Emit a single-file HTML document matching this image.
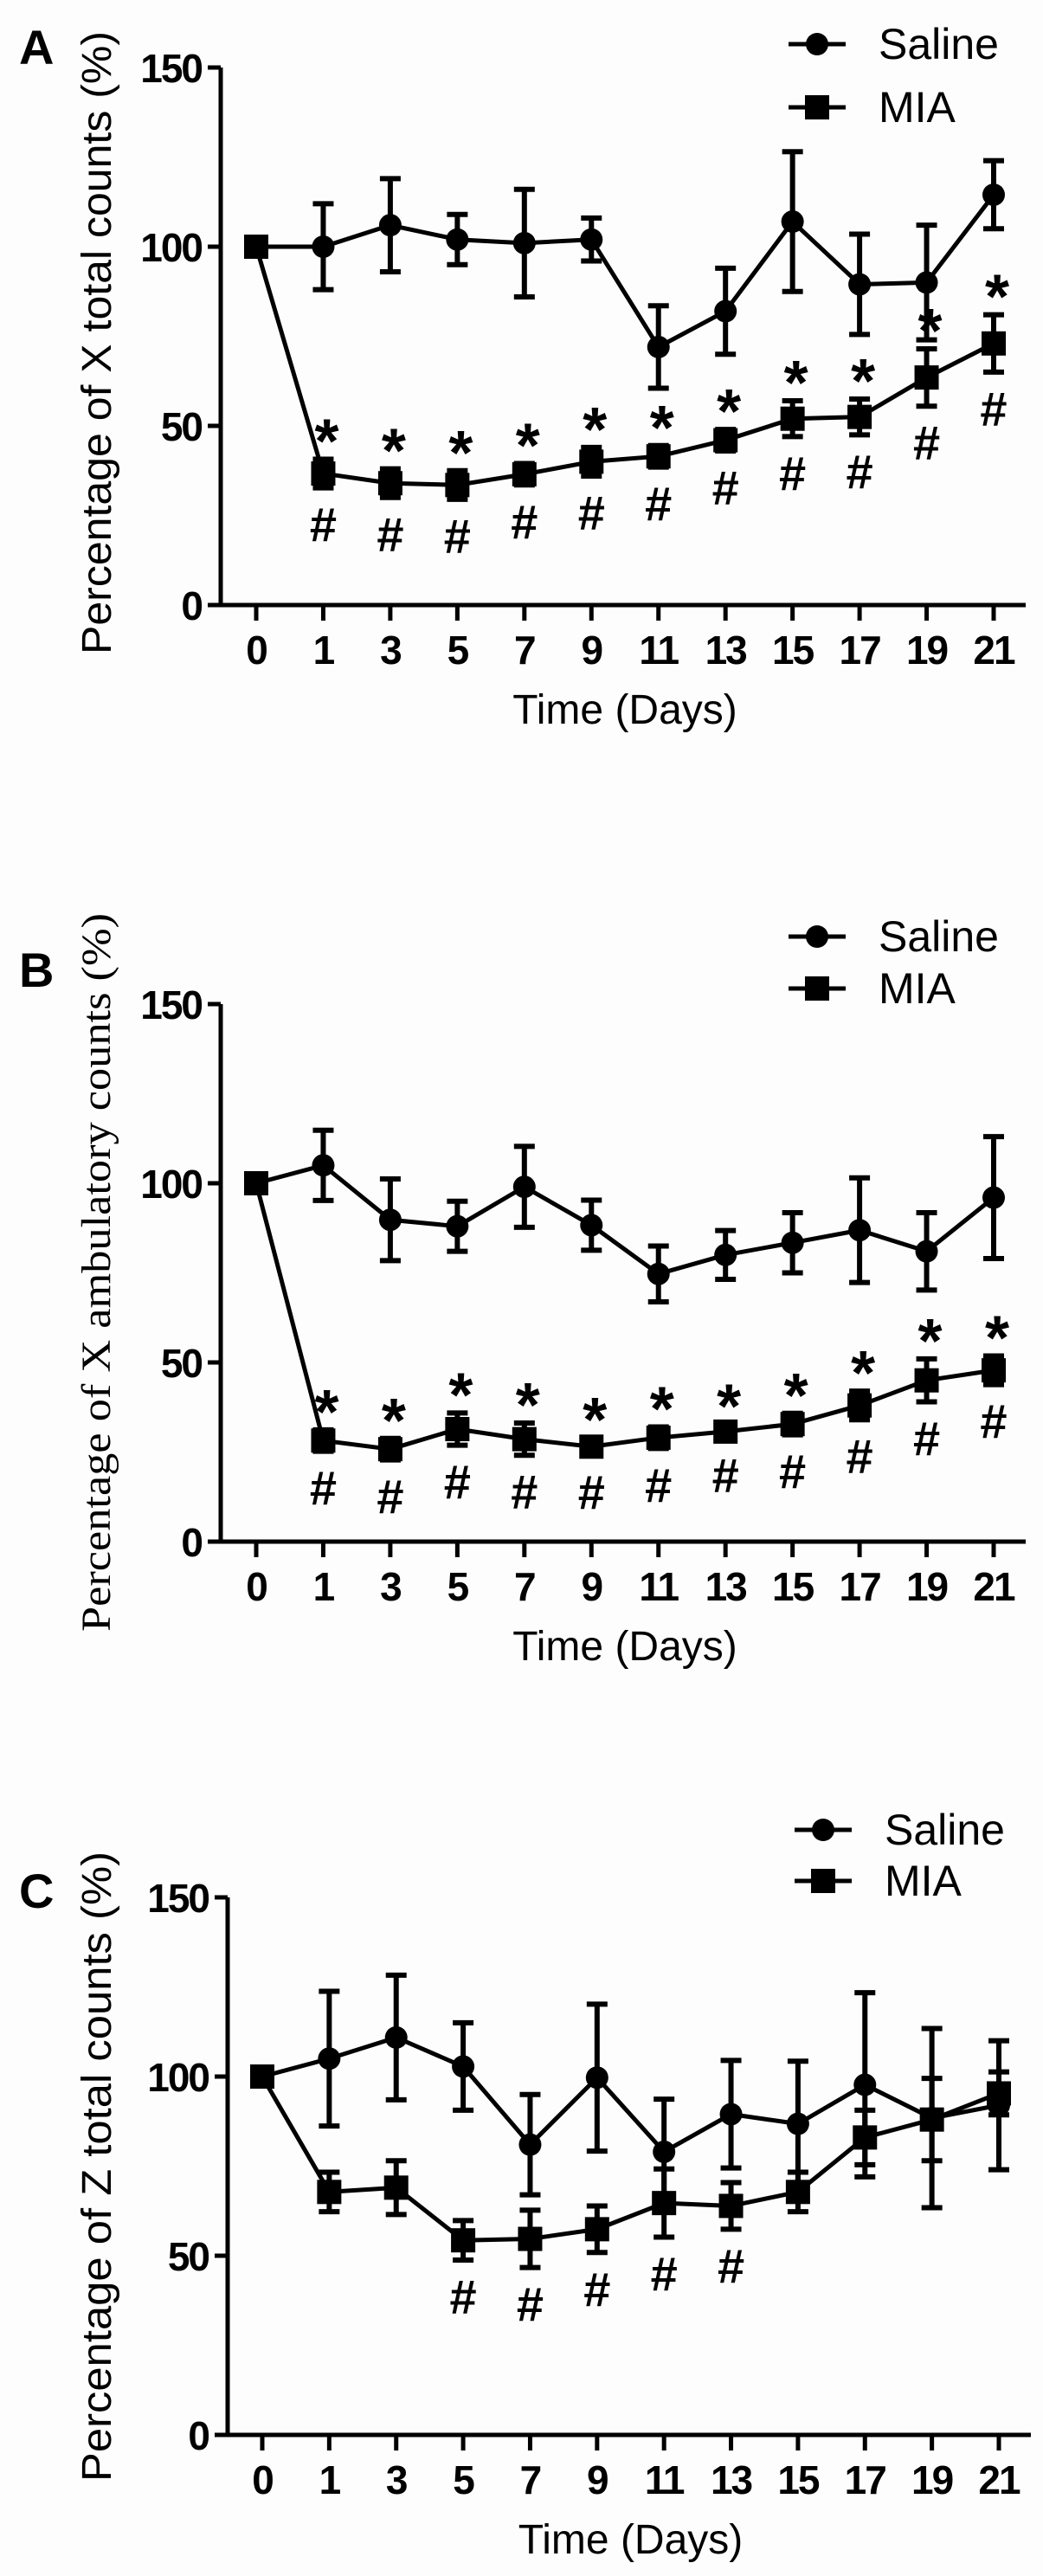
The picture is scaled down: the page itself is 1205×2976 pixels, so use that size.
<!DOCTYPE html>
<html><head><meta charset="utf-8"><style>
html,body{margin:0;padding:0;background:#fdfdfd;}
svg{display:block;}
text{font-family:"Liberation Sans",Arial,sans-serif;fill:#000;}
</style></head>
<body>
<svg id="fig" width="1205" height="2976" viewBox="0 0 1205 2976"></svg>
<script>
const categories = ["0","1","3","5","7","9","11","13","15","17","19","21"];
const yTicks = [0,50,100,150];

const aSalineMean = [100,100,106,102,101,102,72,82,107,89.5,90,114.5];
const aSalineErr  = [0,12,13,7,15,6,11.5,12,19.5,14,16,9.5];
const aMiaMean    = [100,36.7,34,33.5,36.5,40,41.5,46,52,52.5,63.5,73];
const aMiaErr     = [0,4,4,4,3,4,3,3,5,5,8,8];
const aStars      = [0,1,1,1,1,1,1,1,1,1,1,1];
const aHashes     = [0,1,1,1,1,1,1,1,1,1,1,1];

const bSalineMean = [100,105,89.8,88,99,88.3,74.7,80,83.4,86.9,81,96];
const bSalineErr  = [0,9.8,11.4,7,11.3,7,7.8,6.8,8.4,14.6,10.8,17];
const bMiaMean    = [100,28.2,25.8,31.4,28.6,26.5,29,30.7,32.8,38,45,47.8];
const bMiaErr     = [0,3,3,4.5,4.5,2.5,3,2,3,4,6,4];
const bStars      = [0,1,1,1,1,1,1,1,1,1,1,1];
const bHashes     = [0,1,1,1,1,1,1,1,1,1,1,1];

const cSalineMean = [100,105,110.9,102.8,81,99.7,79,89.5,86.8,97.7,88.4,92];
const cSalineErr  = [0,18.8,17.4,12.2,14,20.5,14.7,15,17.5,25.7,25,18];
const cMiaMean    = [100,67.8,69,54.3,54.7,57.4,64.7,63.9,67.8,83,88,95.3];
const cMiaErr     = [0,5.5,7.5,5.5,8,6.5,9.5,6.5,5.5,7.6,11.5,6];
const cStars      = [0,0,0,0,0,0,0,0,0,0,0,0];
const cHashes     = [0,0,0,1,1,1,1,1,0,0,0,0];

const NS = "http://www.w3.org/2000/svg";
const svg = document.getElementById("fig");
function mk(tag, attrs, parent){
  const e = document.createElementNS(NS, tag);
  for (const k in attrs) e.setAttribute(k, attrs[k]);
  (parent||svg).appendChild(e);
  return e;
}

function drawPanel(cfg){
  const g = mk("g", {});
  
  
  const x0 = cfg.x0, x1 = cfg.x1, yZero = cfg.yZero, pxPerUnit = cfg.pxPerUnit;
  const xs = i => x0 + i * (x1 - x0) / (categories.length - 1);
  const ys = v => yZero - v * pxPerUnit;
  const axX = cfg.axisX, axEnd = x1 + 37;

  const ya = mk("line", {x1:axX, y1:ys(150), x2:axX, y2:yZero+2, stroke:"#000","stroke-width":5}, g);
  
  
  const xa = mk("line", {x1:axX-15, y1:yZero, x2:axEnd, y2:yZero, stroke:"#000","stroke-width":5}, g);
  
  
  yTicks.forEach(v => {
    const y = ys(v);
    mk("line", {x1:axX-15, y1:y, x2:axX, y2:y, stroke:"#000","stroke-width":5}, g);
    const t = mk("text", {x:axX-22, y:y+17, "text-anchor":"end","font-size":46,"font-weight":"bold","letter-spacing":-2}, g);
    t.textContent = v;
    
    
  });
  categories.forEach((c,i) => {
    const x = xs(i);
    mk("line", {x1:x, y1:yZero, x2:x, y2:yZero+18, stroke:"#000","stroke-width":5}, g);
    const t = mk("text", {x:x, y:yZero+68, "text-anchor":"middle","font-size":46,"font-weight":"bold","letter-spacing":-2}, g);
    t.textContent = c;
    
    
  });
  const xt = mk("text", {x:(x0+x1)/2, y:yZero+137, "text-anchor":"middle","font-size":48}, g);
  xt.textContent = "Time (Days)";
  
  
  const yt = mk("text", {x:0, y:0, "text-anchor":"middle","font-size":cfg.ytSize, textLength:cfg.ytLen, lengthAdjust:"spacingAndGlyphs",
    transform:"translate(" + (cfg.ytX) + "," + cfg.ytY + ") rotate(-90)", style: cfg.serif ? "font-family:'Liberation Serif',serif" : ""}, g);
  yt.textContent = cfg.ytitle;
  
  
  const lt = mk("text", {x:22, y:cfg.letterY, "font-size":56,"font-weight":"bold"}, g);
  lt.textContent = cfg.letter;
  
  

  function series(mean, err, shape, name){
    const sg = mk("g", {}, g);
    
    
    const pts = mean.map((v,i) => xs(i) + "," + ys(v)).join(" ");
    mk("polyline", {points:pts, fill:"none", stroke:"#000","stroke-width":5,"stroke-linejoin":"round"}, sg);
    mean.forEach((v,i) => {
      if (err[i] > 0){
        const x = xs(i), yt2 = ys(v+err[i]), yb = ys(v-err[i]);
        const eb = mk("path", {d:"M"+x+","+yt2+"V"+yb+"M"+(x-12)+","+yt2+"H"+(x+12)+"M"+(x-12)+","+yb+"H"+(x+12), stroke:"#000","stroke-width":6,fill:"none"}, sg);
        
        
      }
      let m;
      if (shape === "circle") m = mk("circle", {cx:xs(i), cy:ys(v), r:13, fill:"#000"}, sg);
      else m = mk("rect", {x:xs(i)-14, y:ys(v)-14, width:28, height:28, fill:"#000"}, sg);
      
      
    });
  }
  series(cfg.salMean, cfg.salErr, "circle", "saline");
  series(cfg.miaMean, cfg.miaErr, "square", "mia");

  cfg.miaMean.forEach((v,i) => {
    if (cfg.stars[i]){
      const s = mk("text", {x:xs(i)+4, y:ys(v+cfg.miaErr[i])+4, "text-anchor":"middle","font-size":72,"font-weight":"bold"}, g);
      s.textContent = "*";
      
      
    }
    if (cfg.hashes[i]){
      const h = mk("text", {x:xs(i), y:ys(v-cfg.miaErr[i])+62, "text-anchor":"middle","font-size":56,"font-weight":"bold"}, g);
      h.textContent = "#";
      
      
    }
  });

  const lg = mk("g", {}, g);
  
  
  const lx = cfg.legX;
  mk("line", {x1:lx, y1:cfg.legY1, x2:lx+66, y2:cfg.legY1, stroke:"#000","stroke-width":5}, lg);
  mk("circle", {cx:lx+33, cy:cfg.legY1, r:13, fill:"#000"}, lg);
  const l1 = mk("text", {x:lx+104, y:cfg.legY1+17, "font-size":50}, lg);
  l1.textContent = "Saline";
  
  
  mk("line", {x1:lx, y1:cfg.legY2, x2:lx+66, y2:cfg.legY2, stroke:"#000","stroke-width":5}, lg);
  mk("rect", {x:lx+19, y:cfg.legY2-14, width:28, height:28, fill:"#000"}, lg);
  const l2 = mk("text", {x:lx+104, y:cfg.legY2+17, "font-size":50}, lg);
  l2.textContent = "MIA";
  
  
}

drawPanel({letter:"A", x0:296, x1:1148, axisX:255, yZero:699, pxPerUnit:4.14,
  salMean:aSalineMean, salErr:aSalineErr, miaMean:aMiaMean, miaErr:aMiaErr, stars:aStars, hashes:aHashes,
  ytitle:"Percentage of X total counts (%)", ytX:128, ytY:396, ytLen:720, ytSize:48, serif:false,
  letterY:74, legX:911, legY1:51, legY2:124});
drawPanel({letter:"B", x0:296, x1:1148, axisX:255, yZero:1781, pxPerUnit:4.14,
  salMean:bSalineMean, salErr:bSalineErr, miaMean:bMiaMean, miaErr:bMiaErr, stars:bStars, hashes:bHashes,
  ytitle:"Percentage of X ambulatory counts (%)", ytX:127, ytY:1470, ytLen:830, ytSize:48, serif:true,
  letterY:1140, legX:911, legY1:1082, legY2:1142});
drawPanel({letter:"C", x0:303, x1:1154, axisX:263, yZero:2813, pxPerUnit:4.14,
  salMean:cSalineMean, salErr:cSalineErr, miaMean:cMiaMean, miaErr:cMiaErr, stars:cStars, hashes:cHashes,
  ytitle:"Percentage of Z total counts (%)", ytX:128, ytY:2503, ytLen:728, ytSize:48, serif:false,
  letterY:2204, legX:918, legY1:2114, legY2:2173});
</script>
</body></html>
